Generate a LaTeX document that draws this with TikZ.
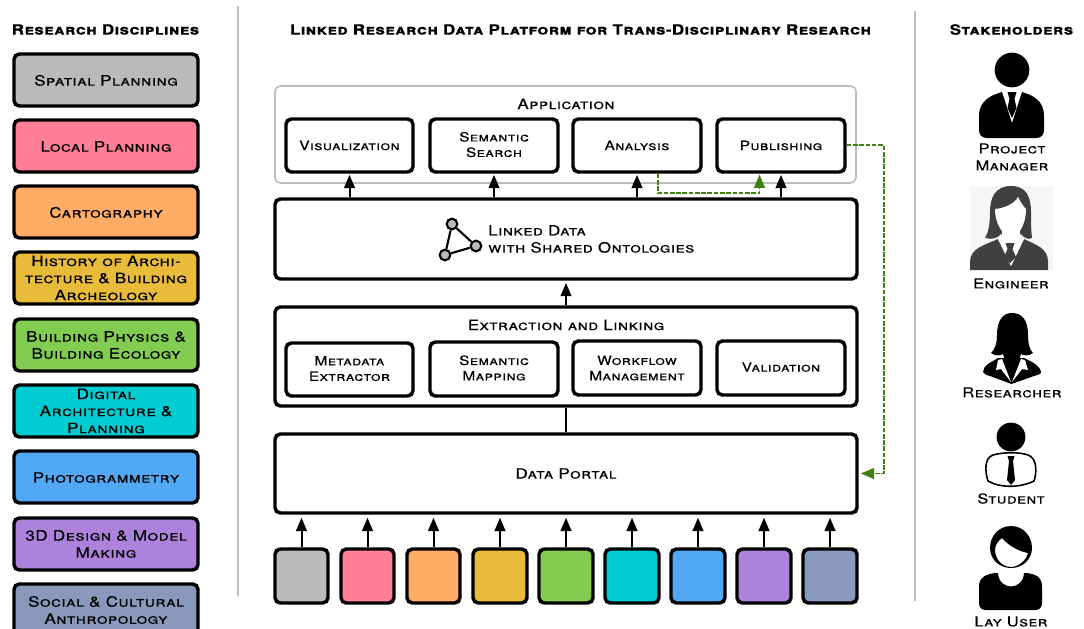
\documentclass[tikz,border=0pt]{standalone}
\usepackage{fontspec}
\setmainfont{TeX Gyre Heros}[FakeStretch=1.2,LetterSpace=3,Letters=SmallCaps,SmallCapsFeatures={},FakeBold=0.25,BoldFeatures={FakeBold=0.3}]
\usetikzlibrary{arrows.meta,calc}
\definecolor{cgray}{HTML}{BABABA}
\definecolor{cpink}{HTML}{FF8096}
\definecolor{corange}{HTML}{FFAC66}
\definecolor{cyellow}{HTML}{E8BC3A}
\definecolor{cgreen}{HTML}{82CC52}
\definecolor{cteal}{HTML}{00CCD2}
\definecolor{cblue}{HTML}{52A8F5}
\definecolor{cpurple}{HTML}{AD82DC}
\definecolor{cslate}{HTML}{8899BC}
\definecolor{cdgreen}{HTML}{3E8210}
\definecolor{cframe}{HTML}{BDBDBD}
\definecolor{cicon}{HTML}{404040}
\definecolor{ciconbg}{HTML}{F6F6F6}
\newcommand{\bx}[6][white]{%
  \node[boxstyle,fill=#1,minimum width={(#4-#3)*0.75pt},minimum height={(#6-#5)*0.75pt}] (#2) at ({(#3+#4)/2},{(#5+#6)/2})}
\tikzset{
  x=0.75pt,y=-0.75pt,
  boxstyle/.style={draw=black,line width=2.6pt,rounded corners=4pt,inner sep=0pt,align=center,font=\fontsize{10.6}{12.8}\selectfont},
  flow/.style={draw=black,line width=1.5pt,-{Triangle[width=8pt,length=10pt]}},
  link/.style={draw=black,line width=1.6pt},
  greenflow/.style={draw=cdgreen,line width=1.4pt,dash pattern=on 3.5pt off 1.2pt,-{Triangle[width=8pt,length=10pt]}},
  heading/.style={inner sep=0pt,align=center,font=\fontsize{10.6}{12.8}\selectfont\bfseries},
  label/.style={inner sep=0pt,align=center,font=\fontsize{10.6}{12.8}\selectfont},
  iconlabel/.style={inner sep=0pt,align=center,font=\fontsize{10.3}{12.8}\selectfont},
  graph dot/.style={circle,draw=black,line width=1.6pt,fill=cgray,minimum size=8pt,inner sep=0pt},
  inner text/.style={boxstyle/.append style={font=\fontsize{9.6}{11.6}\selectfont}},
  raised text/.style={boxstyle/.append style={execute at end node={\rule[-1.6pt]{0pt}{0pt}}}},
}
\begin{document}
\begin{tikzpicture}
\useasboundingbox (0,0) rectangle (1084,628);
\clip (0,0) rectangle (1084,628);
% separators
\draw[cframe,line width=1.1pt] (238,6) -- (238,596);
\draw[cframe,line width=1.1pt] (915,11) -- (915,601);
% headings
\node[heading] (h1) at (105.5,29.5) {Research Disciplines};
\node[heading] (h2) at (580.5,29.5) {Linked Research Data Platform for Trans-Disciplinary Research};
\node[heading] (h3) at (1011.5,29.5) {Stakeholders};
% disciplines
\begin{scope}[boxstyle/.append style={font=\fontsize{10.7}{12.8}\selectfont,execute at begin node={\rule{0pt}{8.6pt}}}]
\bx[cgray]{d1}{14}{198}{54}{106} {Spatial Planning};
\bx[cpink]{d2}{14}{198}{120}{172} {Local Planning};
\bx[corange]{d3}{14}{198}{186}{238} {Cartography};
\bx[cyellow]{d4}{14}{198}{252}{304} {History of Archi-\\tecture \& Building\\Archeology};
\bx[cgreen]{d5}{14}{198}{319}{371} {Building Physics \&\\Building Ecology};
\bx[cteal]{d6}{14}{198}{385}{437} {Digital\\Architecture \&\\Planning};
\bx[cblue]{d7}{14}{198}{451}{503} {Photogrammetry};
\bx[cpurple]{d8}{14}{198}{518}{570} {3D Design \& Model\\Making};
\bx[cslate]{d9}{14}{198}{584}{636} {Social \& Cultural\\Anthropology};
\end{scope}
% application
\node[draw=cframe,line width=1.2pt,rounded corners=4pt,minimum width={581*0.75pt},minimum height={97*0.75pt},inner sep=0pt] (app) at (565.5,134.5) {};
\node[label] (applabel) at (566,104) {Application};
\begin{scope}[inner text]
\bx{vis}{286}{413}{119}{172} {Visualization};
\bx{ana}{573}{701}{119}{172} {Analysis};
\bx{pub}{717}{845}{119}{172} {Publishing};
\end{scope}
\begin{scope}[inner text,raised text]
\bx{sem}{430}{558}{119}{172} {Semantic\\Search};
\end{scope}
% linked data
\bx{ld}{275}{857}{199}{279} {};
\node[label,align=left,anchor=west] (ldlabel) at (488,239) {Linked Data\\with Shared Ontologies};
\node[graph dot] (g1) at (452,224) {};
\node[graph dot] (g2) at (476,246) {};
\node[graph dot] (g3) at (445,255) {};
\draw[link] (g1) -- (g2) -- (g3) -- (g1);
% extraction
\bx{ext}{275}{857}{307}{406} {};
\node[label] (extlabel) at (566,325) {Extraction and Linking};
\begin{scope}[inner text]
\bx{wf}{573}{701}{341}{395} {Workflow\\Management};
\end{scope}
\begin{scope}[inner text,raised text]
\bx{meta}{286}{413}{343}{396} {Metadata\\Extractor};
\bx{map}{430}{558}{342}{396} {Semantic\\Mapping};
\bx{val}{717}{845}{341}{395} {Validation};
\end{scope}
% data portal
\bx{dp}{275}{857}{434}{513} {Data Portal};
% sources
\bx[cgray]{s1}{275}{328}{549}{603} {};
\bx[cpink]{s2}{341}{394}{549}{603} {};
\bx[corange]{s3}{407}{460}{549}{603} {};
\bx[cyellow]{s4}{473}{527}{549}{603} {};
\bx[cgreen]{s5}{539}{593}{549}{603} {};
\bx[cteal]{s6}{605}{659}{549}{603} {};
\bx[cblue]{s7}{671}{725}{549}{603} {};
\bx[cpurple]{s8}{737}{791}{549}{603} {};
\bx[cslate]{s9}{803}{857}{549}{603} {};
% connectors
\foreach \n in {s1,s2,s3,s4,s5,s6,s7,s8,s9}
  \draw[flow,shorten >=2.2pt] (\n.north) -- (\n.north|-dp.south);
\foreach \n in {vis,sem,ana,pub}
  \draw[flow,shorten >=0.8pt] (\n.south|-ld.north) -- (\n.south);
\draw[flow,shorten >=1.6pt] (ext.north) -- (ld.south);
\draw[link] (dp.north) -- (ext.south);
\coordinate (greenstart) at ($(ana.south)+(21,0)$);
\coordinate (greenend) at ($(pub.south)+(-21.5,0)$);
\draw[greenflow,shorten >=0.6pt] (greenstart) -- ++(0,19.5) -| (greenend);
\coordinate (pubstart) at ($(pub.east)+(0,-0.5)$);
\coordinate (pubturn) at ($(pubstart)+(37,0)$);
\draw[greenflow,shorten >=1.5pt] (pubstart) -- (pubturn) |- (dp.east);
% project manager icon
\fill[black] (1012,70) circle[radius=13pt];
\fill[black] (1002,92) .. controls (992,95) and (979,100) .. (979,116) -- (979,130) .. controls (979,135) and (982,138) .. (987,138) -- (1036,138) .. controls (1041,138) and (1044,135) .. (1044,130) -- (1044,116) .. controls (1044,100) and (1032,95) .. (1022,92) -- (1012,123) -- cycle;
\fill[black] (1007.5,92) -- (1016.5,92) -- (1014.5,99) -- (1016.5,108) -- (1012,118) -- (1007.5,108) -- (1009.5,99) -- cycle;
% engineer icon
\fill[ciconbg] (970,186) rectangle (1053,270);
\fill[cicon] (1011,186) .. controls (995,186) and (990,198) .. (990,212) .. controls (990,226) and (988,233) .. (985,238) .. controls (992,240) and (998,238) .. (1001,234) -- (1021,234) .. controls (1024,238) and (1028,240) .. (1032,238) .. controls (1031,230) and (1031,222) .. (1031,212) .. controls (1031,198) and (1027,186) .. (1011,186) -- cycle;
\fill[white] (995,209) .. controls (1005,208) and (1014,204) .. (1018,197) .. controls (1021,203) and (1024,207) .. (1026,209) .. controls (1026,224) and (1019,236) .. (1011,237) .. controls (1003,236) and (995,224) .. (995,209) -- cycle;
\fill[white] (1002,230) rectangle (1020,246);
\fill[cicon] (998,239) .. controls (985,245) and (970,248) .. (970,262) -- (970,270) -- (1048,270) -- (1048,262) .. controls (1048,248) and (1036,245) .. (1024,239) -- (1011,266) -- cycle;
\fill[white] (998,239) -- (1024,239) -- (1011,266) -- cycle;
\fill[cicon] (1005.5,243) -- (1014.5,243) -- (1012.5,249) -- (1016,257) -- (1010,263) -- (1004,257) -- (1007.5,249) -- cycle;
% researcher icon
\fill[black] (997,335) .. controls (997,320) and (1003,313) .. (1012,313) .. controls (1022,313) and (1028,320) .. (1028,335) .. controls (1028,345) and (1030,350) .. (1033,353) .. controls (1029,356) and (1024,356) .. (1021,354) -- (1012,382) -- (1003,354) .. controls (1000,356) and (995,356) .. (991,353) .. controls (994,350) and (997,345) .. (997,335) -- cycle;
\fill[black] (998,358) .. controls (992,362) and (983,365) .. (983,372) .. controls (984,375) and (987,375) .. (990,376) -- (1011.5,384) -- (1034,376) .. controls (1038,375) and (1041,374) .. (1041,372) .. controls (1040,365) and (1030,361) .. (1024,358) -- cycle;
\fill[white] (998,360) -- (1002,359) -- (1011,382) -- (1001,369) -- (996,370) -- cycle;
\fill[white] (1025,360) -- (1021,359) -- (1012,382) -- (1022,369) -- (1028,370) -- cycle;
% student icon
\fill[black] (1011,437) circle[radius=10.8pt];
\draw[black,line width=1.2pt] (988,481) .. controls (985,472) and (984,458) .. (993,455) .. controls (1003,452) and (1020,452) .. (1028,455) .. controls (1037,458) and (1037,472) .. (1034,481) .. controls (1020,488) and (1000,488) .. (988,481) -- cycle;
\fill[black] (1007.5,456) -- (1014.5,456) -- (1013,461) -- (1015,480) -- (1011,485) -- (1007,480) -- (1009,461) -- cycle;
% lay user icon
\fill[black,even odd rule] (1011,526) .. controls (998,526) and (990,537) .. (990,548) .. controls (990,560) and (1000,568) .. (1011,568) .. controls (1023,568) and (1032,559) .. (1032,548) .. controls (1032,537) and (1024,526) .. (1011,526) -- cycle (1002,538) .. controls (1009,546) and (1018,551) .. (1028,553) .. controls (1026,561) and (1018,567) .. (1011,567) .. controls (1002,567) and (995,559) .. (995,550) .. controls (995,545) and (998,541) .. (1002,538) -- cycle;
\fill[black] (979,586) .. controls (979,578) and (986,573) .. (998,573) .. controls (999,591) and (1023,591) .. (1024,573) .. controls (1036,573) and (1042,578) .. (1042,586) -- (1042,603) .. controls (1042,608) and (1039,610) .. (1035,610) -- (986,610) .. controls (982,610) and (979,608) .. (979,603) -- cycle;
% icon labels
\node[iconlabel] (l1) at (1012,157) {Project\\Manager};
\node[iconlabel] (l2) at (1011,283.5) {Engineer};
\node[iconlabel] (l3) at (1012,392.5) {Researcher};
\node[iconlabel] (l4) at (1011,498.5) {Student};
\node[iconlabel] (l5) at (1011,621.5) {Lay User};
\end{tikzpicture}
\end{document}
